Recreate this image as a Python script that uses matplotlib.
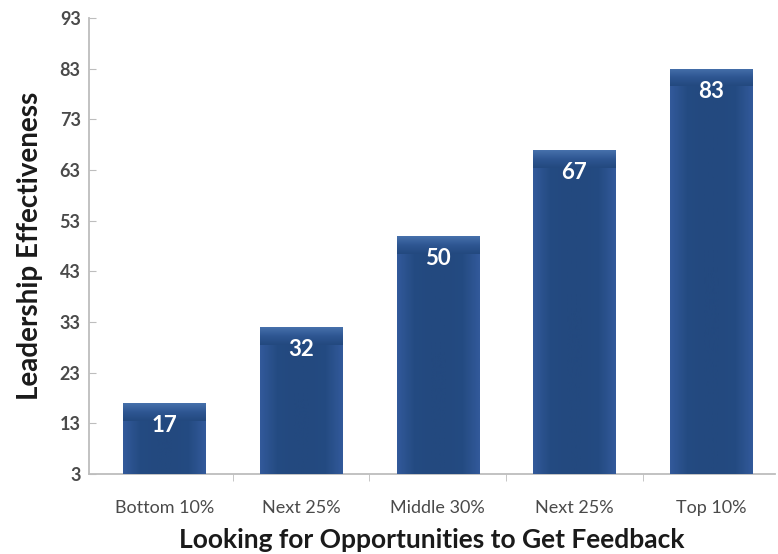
import matplotlib
matplotlib.use("Agg")
import matplotlib.pyplot as plt
import numpy as np
from matplotlib.colors import LinearSegmentedColormap

categories = ["Bottom 10%", "Next 25%", "Middle 30%", "Next 25%", "Top 10%"]
values = [17, 32, 50, 67, 83]
yticks = [3, 13, 23, 33, 43, 53, 63, 73, 83, 93]

plt.rcParams["font.family"] = ["Lato", "DejaVu Sans"]

fig = plt.figure(figsize=(7.78, 5.54), dpi=100)
ax = fig.add_axes([0.1144, 0.1444, 0.882, 0.823])

x = np.arange(len(categories))
bars = ax.bar(x, values, width=0.6, bottom=0, color="#234a80", zorder=2)

# shaded fill: slightly lighter edges, flat dark middle
cmap = LinearSegmentedColormap.from_list(
    "bar", ["#32599a", "#244b82", "#23497f", "#23497f", "#244b82", "#32599a"])
grad = np.linspace(0, 1, 64).reshape(1, -1)
top_cmap = LinearSegmentedColormap.from_list("top", ["#23497f", "#2e5692", "#4670ab"])
for b in bars:
    x0, w, h = b.get_x(), b.get_width(), b.get_height()
    im = ax.imshow(grad, cmap=cmap, aspect="auto", extent=[x0, x0 + w, 3, h],
                   zorder=3)
    im.set_clip_path(b)
    # soft top bevel
    top = ax.imshow(np.linspace(0, 1, 32).reshape(-1, 1), aspect="auto",
                    cmap=top_cmap, extent=[x0, x0 + w, h - 3.5, h], zorder=4,
                    origin="lower")
    top.set_clip_path(b)
    ax.text(b.get_x() + w / 2, h - 4.4, str(h), ha="center", va="center",
            color="white", fontsize=16, fontweight="bold", zorder=5)

ax.set_xlim(-0.55, 4.47)
ax.set_ylim(3, 93)
ax.set_yticks(yticks)
ax.set_xticks(x)
ax.set_xticklabels(categories)
ax.set_xticks(np.arange(0.5, 4, 1), minor=True)

for s in ["top", "right"]:
    ax.spines[s].set_visible(False)
for s in ["left", "bottom"]:
    ax.spines[s].set_color("#bdbdbd")
    ax.spines[s].set_linewidth(1.3)

ax.tick_params(axis="y", direction="in", length=5, color="#bdbdbd",
               labelsize=13, labelcolor="#4a4a4a", pad=6)
for lab in ax.get_yticklabels():
    lab.set_fontweight("bold")
ax.tick_params(axis="x", which="major", length=0, labelsize=13,
               labelcolor="#4a4a4a", pad=19)
ax.tick_params(axis="x", which="minor", length=5, color="#bdbdbd")

ax.set_ylabel("Leadership Effectiveness", fontsize=20, fontweight="bold",
              color="#1a1a1a", labelpad=12)
ax.set_xlabel("Looking for Opportunities to Get Feedback", fontsize=19,
              fontweight="bold", color="#1a1a1a", labelpad=8)

fig.savefig("out.png", dpi=100)
